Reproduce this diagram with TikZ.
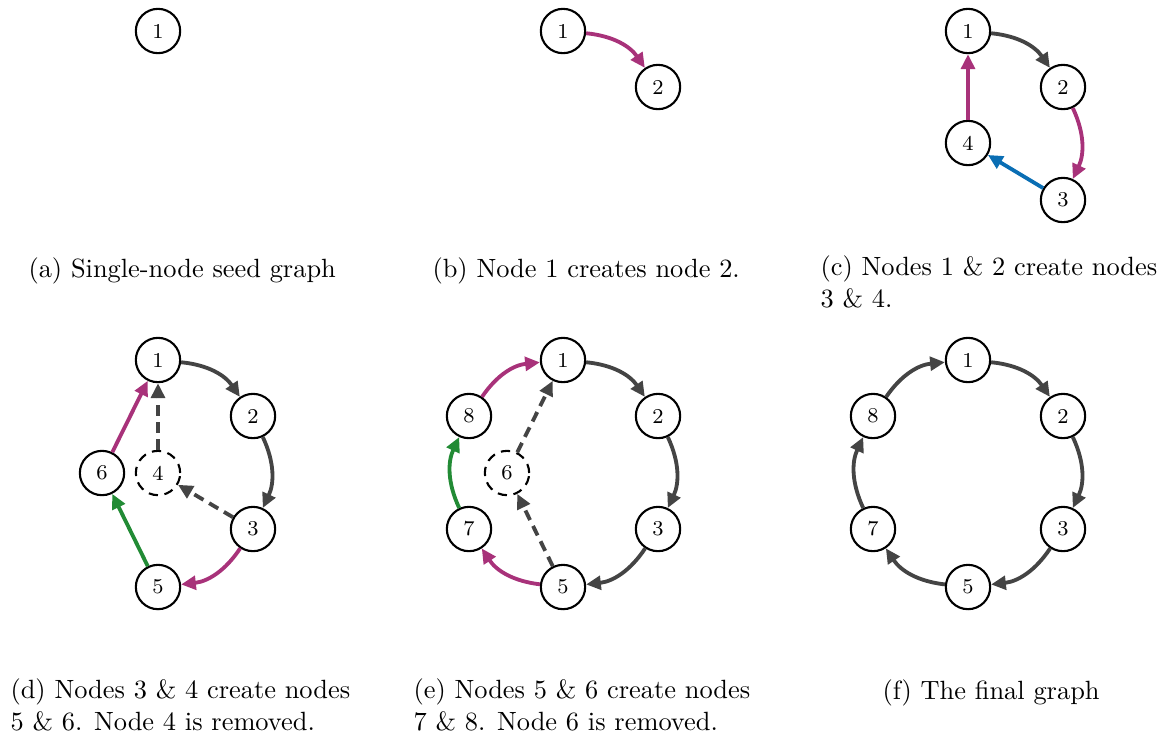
\documentclass[tikz,border=0pt]{standalone}
\usepackage{tikz}
\usetikzlibrary{positioning}
\usetikzlibrary{arrows.meta}
\definecolor{edgegray}{HTML}{444444}
\definecolor{edgemag}{HTML}{A8327A}
\definecolor{edgeblue}{HTML}{0A6EB4}
\definecolor{edgegreen}{HTML}{228B35}
\tikzset{
    gnode/.style = {circle, thick, draw=black, fill=white, minimum size=16.8pt, inner sep=0pt, font=\footnotesize},
    gnoded/.style = {circle, thick, draw=black, fill=white, dash pattern=on 3.5pt off 2.5pt, minimum size=16.8pt, inner sep=0pt, font=\footnotesize},
    edgek/.style = {-{Triangle[length=5.6pt,width=5.2pt]}, line width=1.45pt, edgegray},
    edgem/.style = {-{Triangle[length=5.6pt,width=5.2pt]}, line width=1.45pt, edgemag},
    edgeb/.style = {-{Triangle[length=5.6pt,width=5.2pt]}, line width=1.45pt, edgeblue},
    edgeg/.style = {-{Triangle[length=5.6pt,width=5.2pt]}, line width=1.45pt, edgegreen},
    edgekd/.style = {-{Triangle[length=5.6pt,width=5.2pt]}, line width=1.45pt, edgegray, dash pattern=on 4pt off 2.5pt}, % removed node
    subcap/.style = {anchor=base west, align=left, inner sep=0pt, font=\normalsize}
}

\begin{document}
\begin{tikzpicture}[x=0.379pt,y=-0.379pt]
%
\path[use as bounding box] (0,0) rectangle (1173,738);
%
% (a)
\node[gnode] at (158,31) (a1) {1};
%
% (b)
\node[gnode] at (563,31) (b1) {1};
\node[gnode] at (658,87) (b2) {2};
\draw[edgem] (b1) to[bend left=25] (b2);
%
% (c)
\node[gnode] at (968,31) (c1) {1};
\node[gnode] at (1063,87) (c2) {2};
\node[gnode] at (1063,200) (c3) {3};
\node[gnode] at (968,143) (c4) {4};
\draw[edgek] (c1) to[bend left=25] (c2);
\draw[edgem] (c2) to[bend left=25] (c3);
\draw[edgeb] (c3) -- (c4);
\draw[edgem] (c4) -- (c1);
%
% (d)
\node[gnode] at (158,360) (d1) {1};
\node[gnode] at (253,416) (d2) {2};
\node[gnode] at (253,529) (d3) {3};
\node[gnoded] at (158,473) (d4) {4};
\node[gnode] at (158,587) (d5) {5};
\node[gnode] at (102,473) (d6) {6};
\draw[edgek] (d1) to[bend left=25] (d2);
\draw[edgek] (d2) to[bend left=25] (d3);
\draw[edgem] (d3) to[bend left=25] (d5);
\draw[edgeg] (d5) -- (d6);
\draw[edgem] (d6) -- (d1);
\draw[edgekd] (d4) -- (d1);
\draw[edgekd] (d3) -- (d4);
%
% (e)
\node[gnode] at (563,360) (e1) {1};
\node[gnode] at (658,416) (e2) {2};
\node[gnode] at (658,529) (e3) {3};
\node[gnode] at (563,587) (e5) {5};
\node[gnoded] at (507,473) (e6) {6};
\node[gnode] at (469,529) (e7) {7};
\node[gnode] at (469,416) (e8) {8};
\draw[edgek] (e1) to[bend left=25] (e2);
\draw[edgek] (e2) to[bend left=25] (e3);
\draw[edgek] (e3) to[bend left=25] (e5);
\draw[edgem] (e5) to[bend left=25] (e7);
\draw[edgeg] (e7) to[bend left=25] (e8);
\draw[edgem] (e8) to[bend left=25] (e1);
\draw[edgekd] (e6) -- (e1);
\draw[edgekd] (e5) -- (e6);
%
% (f)
\node[gnode] at (968,360) (f1) {1};
\node[gnode] at (1063,416) (f2) {2};
\node[gnode] at (1063,529) (f3) {3};
\node[gnode] at (968,587) (f5) {5};
\node[gnode] at (873,529) (f7) {7};
\node[gnode] at (873,416) (f8) {8};
\draw[edgek] (f1) to[bend left=25] (f2);
\draw[edgek] (f2) to[bend left=25] (f3);
\draw[edgek] (f3) to[bend left=25] (f5);
\draw[edgek] (f5) to[bend left=25] (f7);
\draw[edgek] (f7) to[bend left=25] (f8);
\draw[edgek] (f8) to[bend left=25] (f1);
%
% captions
\node[subcap] at (28,277) (capa) {(a) Single-node seed graph};
\node[subcap] at (432,277) (capb) {(b) Node 1 creates node 2.};
\node[subcap] at (820,307) (capc) {(c) Nodes 1 \& 2 create nodes\\3 \& 4.};
\node[subcap] at (10,730) (capd) {(d) Nodes 3 \& 4 create nodes\\5 \& 6. Node 4 is removed.};
\node[subcap] at (413,730) (cape) {(e) Nodes 5 \& 6 create nodes\\7 \& 8. Node 6 is removed.};
\node[subcap] at (882,699) (capf) {(f) The final graph};

\end{tikzpicture}
\end{document}
